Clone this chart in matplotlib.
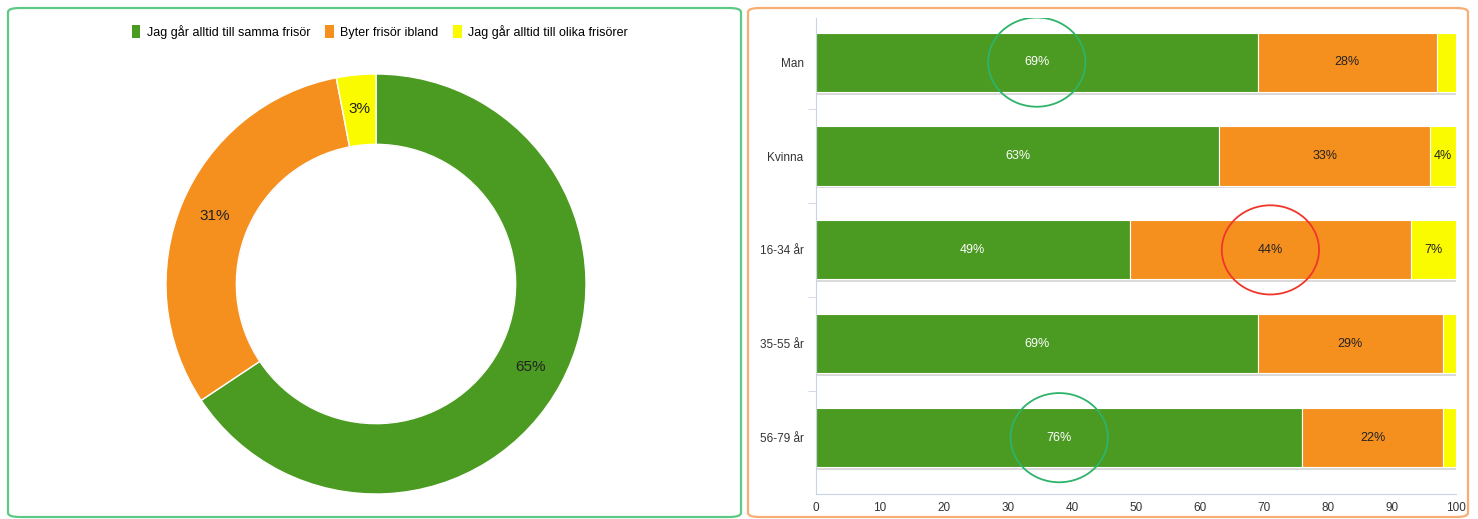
"""
Donut + stacked bar: frisörvanor
"""
import numpy as np
import matplotlib
matplotlib.use('Agg')
import matplotlib.pyplot as plt
from matplotlib.patches import FancyBboxPatch, Ellipse, Patch

plt.rcParams['font.family'] = ['Liberation Sans', 'DejaVu Sans']

# data
answers = ['Jag går alltid till samma frisör', 'Byter frisör ibland', 'Jag går alltid till olika frisörer']
colors = ['#4b9a21', '#f5901f', '#fbfb00']
total_share = [65, 31, 3]

groups = ['Man', 'Kvinna', '16-34 år', '35-55 år', '56-79 år']
same = [69, 63, 49, 69, 76]
sometimes = [28, 33, 44, 29, 22]
different = [3, 4, 7, 2, 2]
x_ticks = [0, 10, 20, 30, 40, 50, 60, 70, 80, 90, 100]
# which segments are circled in the picture: (group index, series index, colour)
highlights = [(0, 0, '#2eb36a'), (2, 1, '#f0362a'), (4, 0, '#2eb36a')]

W, H = 1478, 519
fig = plt.figure(figsize=(W / 100, H / 100), dpi=100)

def fx(px):
    return px / W

def fy(py):
    return 1 - py / H

# panel frames
fig.patches.append(FancyBboxPatch((fx(8), fy(517)), fx(733), 509 / H,
                                  boxstyle='round,pad=0,rounding_size=0.008',
                                  transform=fig.transFigure, fill=False,
                                  edgecolor='#5ec985', linewidth=1.6))
fig.patches.append(FancyBboxPatch((fx(748), fy(517)), fx(720), 509 / H,
                                  boxstyle='round,pad=0,rounding_size=0.008',
                                  transform=fig.transFigure, fill=False,
                                  edgecolor='#f7ae72', linewidth=1.6))

# ---- donut
ax1 = fig.add_axes([fx(166), fy(494), fx(420), 420 / H])
# faint shadow around the hole
ax1.pie([1], colors=['#d6d6d6'], radius=0.675, wedgeprops=dict(width=0.012, linewidth=0))
wedges, texts = ax1.pie(total_share, colors=colors, startangle=90, counterclock=False,
                        radius=1.0, wedgeprops=dict(width=0.335, edgecolor='white', linewidth=1))
for w, v in zip(wedges, total_share):
    ang = np.deg2rad((w.theta1 + w.theta2) / 2)
    r = 0.835
    ax1.text(r * np.cos(ang), r * np.sin(ang), '{}%'.format(v), ha='center', va='center',
             fontsize=11, color='#222222')
ax1.set_xlim(-1.0, 1.0)
ax1.set_ylim(-1.0, 1.0)
ax1.set_aspect('equal')

handles = [Patch(facecolor=c, edgecolor='none') for c in colors]
fig.legend(handles, answers, loc='center', bbox_to_anchor=(fx(380), fy(32)), ncol=3,
           frameon=False, fontsize=9, handlelength=0.7, handleheight=1.2,
           handletextpad=0.5, columnspacing=1.2)

# ---- stacked bars
ax2 = fig.add_axes([fx(816), fy(494), fx(640), 476 / H])
y = np.arange(len(groups))
series = [same, sometimes, different]
left = np.zeros(len(groups))
bar_h = 0.63
# soft shadow under bars
ax2.barh(y + 0.03, np.sum(series, axis=0), height=bar_h, color='#d9d9d9', zorder=1)
for k, vals in enumerate(series):
    vals = np.array(vals)
    ax2.barh(y, vals, left=left, height=bar_h, color=colors[k], edgecolor='white',
             linewidth=0.8, zorder=2)
    for i, v in enumerate(vals):
        if v >= 4:
            ax2.text(left[i] + v / 2, y[i], '{}%'.format(v), ha='center', va='center',
                     fontsize=9, color='white' if k == 0 else '#222222', zorder=4)
    left = left + vals

for gi, si, c in highlights:
    start = sum(series[j][gi] for j in range(si))
    cx = start + series[si][gi] / 2
    ax2.add_patch(Ellipse((cx, y[gi]), width=15.2, height=0.95, fill=False,
                          edgecolor=c, linewidth=1.3, zorder=5))

ax2.set_xlim(0, 100)
ax2.set_ylim(4.6, -0.47)
ax2.set_yticks(y)
ax2.set_yticklabels(groups)
ax2.set_yticks(np.arange(0.5, len(groups) - 0.5), minor=True)
ax2.set_xticks(x_ticks)
ax2.tick_params(axis='y', which='major', length=0, pad=9, labelsize=8.5, labelcolor='#333333')
ax2.tick_params(axis='y', which='minor', length=6, color='#c8d4e3')
ax2.tick_params(axis='x', length=0, pad=6, labelsize=8.5, labelcolor='#333333')
for s in ['top', 'right']:
    ax2.spines[s].set_visible(False)
for s in ['left', 'bottom']:
    ax2.spines[s].set_color('#c8d4e3')

fig.savefig('out.png', dpi=100)
